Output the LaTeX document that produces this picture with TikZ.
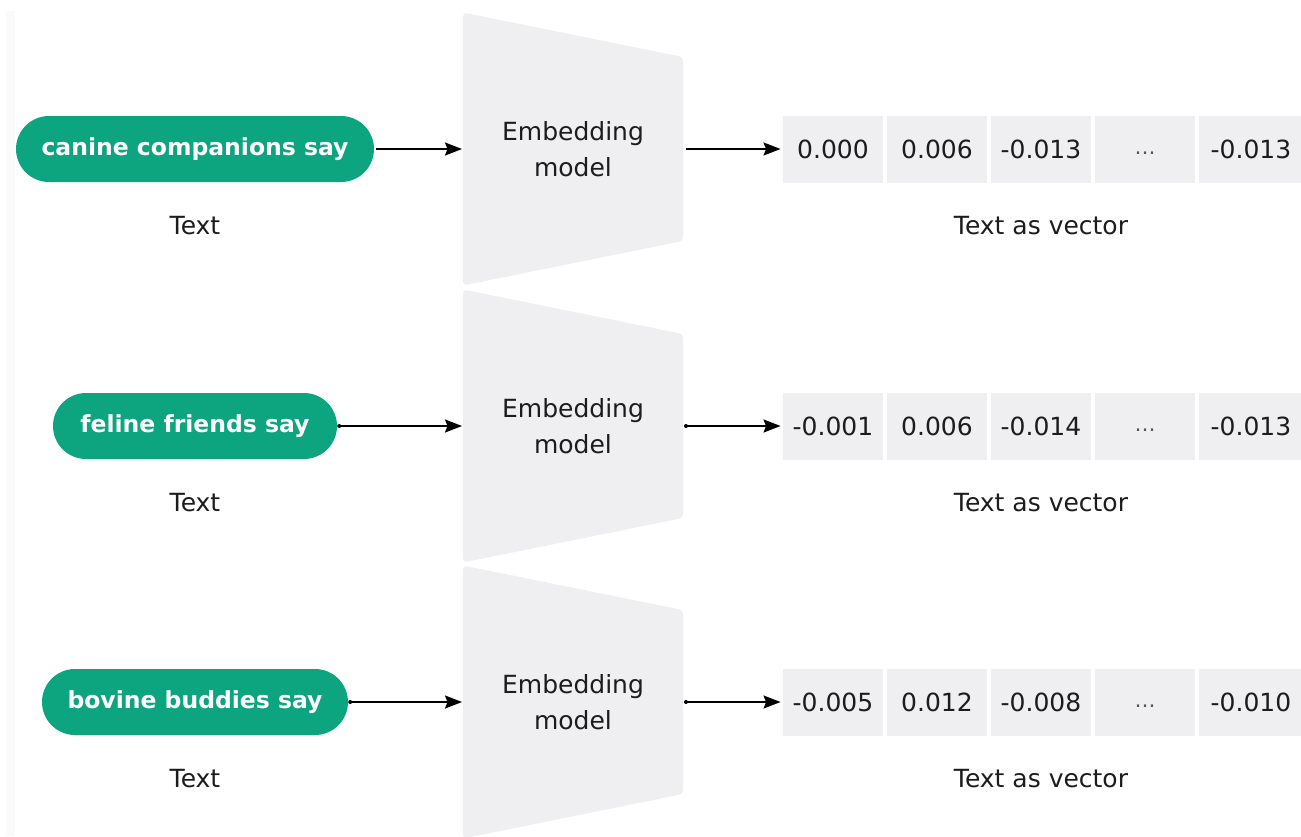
\documentclass[tikz,border=0pt]{standalone}
\usepackage{fontspec}
\setmainfont{DejaVu Sans}
\usetikzlibrary{arrows.meta}
\definecolor{pillgreen}{HTML}{0CA57F}
\definecolor{panel}{HTML}{EFEFF1}
\definecolor{strip}{HTML}{FAFAFA}
\definecolor{ink}{HTML}{1C1C1C}
\begin{document}
\begin{tikzpicture}[x=1pt,y=-1pt,
  pill/.style={fill=pillgreen, text=white, rounded corners=33pt,
    minimum height=66pt, inner sep=0pt,
    font=\bfseries\fontsize{23.5}{28}\selectfont},
  model/.style={align=center, text=ink, font=\fontsize{25}{36}\selectfont},
  cell/.style={fill=panel, text=ink, minimum width=100.5pt, minimum height=67pt,
    inner sep=0pt, text height=18pt, text depth=0pt,
    font=\fontsize{25}{30}\selectfont},
  lbl/.style={text=ink, font=\fontsize{25}{30}\selectfont},
  arr/.style={draw=black, line width=1.8pt,
    -{Stealth[length=17pt,width=13pt,inset=2.5pt]}},
]
\useasboundingbox (0,0) rectangle (1301,836);
\begin{scope}
\clip (0,0) rectangle (1301,836);

% faint margin strip on the left
\fill[strip] (6,11) rectangle (15,836);

\foreach \r/\c/\w/\txt/\va/\vb/\vc/\ve/\dot in {
  1/149/358/{canine companions say}/0.000/0.006/-0.013/-0.013/0,
  2/426/284/{feline friends say}/-0.001/0.006/-0.014/-0.013/1,
  3/702/306/{bovine buddies say}/-0.005/0.012/-0.008/-0.010/1}{
  % input text
  \node[pill, minimum width=\w pt] (p\r) at (195,\c) {\txt};
  \node[lbl] (t\r) at (195,\c+77) {Text};

  % embedding model block
  \fill[panel, rounded corners=4pt]
    (463,\c-136.5) -- (683,\c-92) -- (683,\c+92) -- (463,\c+136.5) -- cycle;
  \coordinate (mw\r) at (463,\c);
  \coordinate (me\r) at (683,\c);
  \node[model] (em\r) at (573,\c) {Embedding\\model};

  % output vector
  \node[cell] (c\r a) at (833,\c) {\va};
  \node[cell] (c\r b) at (937,\c) {\vb};
  \node[cell] (c\r c) at (1041,\c) {\vc};
  \node[cell, text=ink!75] (c\r d) at (1145,\c)
    {\fontsize{21}{24}\selectfont\raisebox{4pt}{…}};
  \node[cell, minimum width=104pt] (c\r e) at (1251,\c) {\ve};
  \node[lbl] (tv\r) at (1041,\c+77) {Text as vector};

  % connectors
  \draw[arr] ([xshift=2pt]p\r.east) -- ([xshift=-1pt]mw\r);
  \draw[arr] ([xshift=3pt]me\r) -- ([xshift=-2pt]c\r a.west);
  \ifnum\dot=1
    \fill[black] ([xshift=2pt]p\r.east) circle (2pt);
    \fill[black] ([xshift=3pt]me\r) circle (2pt);
  \fi
}
\end{scope}
\end{tikzpicture}
\end{document}
